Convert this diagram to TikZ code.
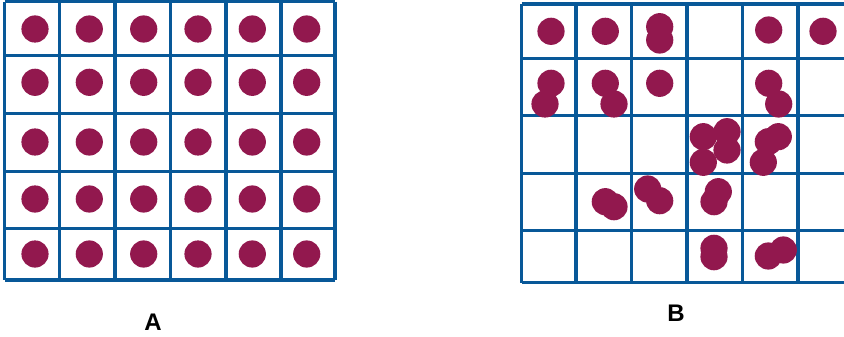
\documentclass[tikz,border=0pt]{standalone}
\usepackage{fontspec}
\setmainfont{Liberation Sans}
\definecolor{gridblue}{RGB}{8,88,152}
\definecolor{dotred}{RGB}{146,24,78}
\tikzset{
  gridline/.style={draw=gridblue, line width=3.2pt},
  dot/.style={fill=dotred},
  lbl/.style={font=\fontsize{24}{24}\selectfont\bfseries, inner sep=0pt}
}
\begin{document}
\begin{tikzpicture}[x=1pt,y=-1pt]
\useasboundingbox (0,0) rectangle (844,337);
\clip (0,0) rectangle (844,337);
% Grid A
\foreach \x in {4.7,59.3,115,170.3,226,281,335}
  \draw[gridline] (\x,1.7) -- (\x,280);
\foreach \y in {1.7,55.7,113.3,171.3,228.7,280}
  \draw[gridline] (4.7,\y) -- (335,\y);
\foreach \x in {35,89.3,143.7,198,252.3,306.7}
  \foreach \y in {29,82.3,142,199,254}
    \fill[dot] (\x,\y) circle (13.6);
% Grid B
\foreach \x in {521.7,576,631.7,687,742.7,798}
  \draw[gridline] (\x,4) -- (\x,282.7);
\foreach \y in {4,58.3,115.7,173.3,230.7,282.7}
  \draw[gridline] (521.7,\y) -- (850,\y);
\foreach \x/\y in {
  551/31.3, 605.3/31.3, 659.7/26.7, 659.7/40, 768.7/30, 823/31.3,
  551/83.3, 545/104, 605.3/83.3, 614/104, 659.7/83.3, 768.7/83.3, 778.7/104,
  703.3/136.7, 727/131.7, 727/150, 703.3/162.3,
  778.3/136.7, 768.3/141.7, 763.3/162.3,
  605.3/201.7, 614/206.7, 647.7/189, 659.7/200.7, 718.3/191.7, 714/201.7,
  714/248.3, 714/256.7, 783.3/250, 768.3/256}
  \fill[dot] (\x,\y) circle (13.6);
% Labels
\node[lbl] (labA) at (153,322) {A};
\node[lbl] (labB) at (676,313) {B};
\end{tikzpicture}
\end{document}
